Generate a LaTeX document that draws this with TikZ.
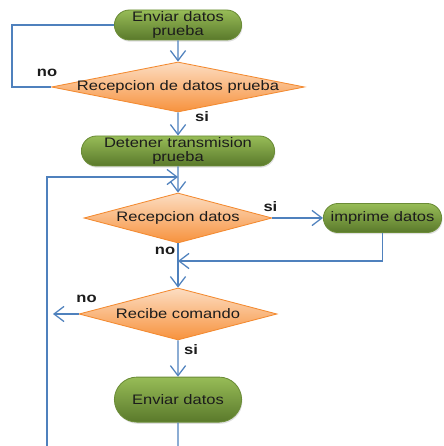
\documentclass[tikz,border=0pt]{standalone}
\usepackage{fontspec}
\newfontfamily\flowfont[FakeStretch=1.2]{Liberation Sans}
\usetikzlibrary{shapes,arrows.meta,calc,positioning,shadows}
\definecolor{flowblue}{HTML}{4F81BD}
\definecolor{flowtext}{HTML}{1C1C1C}
\definecolor{termtop}{HTML}{97BC57}
\definecolor{termbot}{HTML}{5A792B}
\definecolor{termedge}{HTML}{6B8C37}
\definecolor{choicetop}{HTML}{FCDDC2}
\definecolor{choicebot}{HTML}{F7923D}
\definecolor{choiceedge}{HTML}{F38A30}

\begin{document}
\begin{tikzpicture}
[
termnode/.style={rounded rectangle, draw=termedge, line width=0.6pt, top color=termtop, bottom color=termbot, font=\flowfont\fontsize{9.8}{10.2}\selectfont, text=flowtext, align=center, inner sep=1pt, minimum height=0.75cm, drop shadow={opacity=0.25, shadow xshift=0.6pt, shadow yshift=-1.2pt}},
choicenode/.style={diamond, draw=choiceedge, line width=0.6pt, top color=choicetop, bottom color=choicebot, inner sep=0pt, font=\flowfont\fontsize{9.8}{10.2}\selectfont, text=flowtext},
flowline/.style={draw=flowblue, line width=0.9pt},
flowarrow/.style={flowline, -{Straight Barb[length=2.5mm, width=3.8mm]}},
branchlabel/.style={font=\flowfont\bfseries\fontsize{9.8}{10.2}\selectfont, text=flowtext, inner sep=0pt},
]
\useasboundingbox (0,0) rectangle (11.075,11.15);
%draw the test stage
\node[termnode, minimum width=3.25cm] (sendtest) at (4.45,10.525) {Enviar datos\\prueba};
\node[choicenode, minimum width=6.325cm, minimum height=1.25cm] (gottest) at (4.45,8.975) {\makebox[0pt]{Recepcion de datos prueba}};
\node[termnode, minimum width=4.9cm] (stoptest) at (4.45,7.375) {Detener transmision\\prueba};
%draw the main loop
\node[choicenode, minimum width=4.7cm, minimum height=1.25cm] (gotdata) at (4.45,5.7) {\makebox[0pt]{Recepcion datos}};
\node[termnode, minimum width=3.025cm, minimum height=0.725cm] (printdata) at (9.5625,5.7) {imprime datos};
\node[choicenode, minimum width=4.95cm, minimum height=1.3cm] (gotcmd) at (4.45,3.3) {\makebox[0pt]{Recibe comando}};
\node[termnode, minimum width=3.25cm, minimum height=1.125cm] (senddata) at (4.45,1.16) {Enviar datos};
%loose ends of the lines
\coordinate (testloop) at (0.3,8.975);
\coordinate (mainjoin) at (4.45,6.725);
\coordinate (printjoin) at (4.45,4.625);
\coordinate (cmdout) at (1.325,3.3);
\coordinate (loopbottom) at (1.175,0);
\coordinate (sendbottom) at (4.45,0);
%draw the connectors
\draw[flowarrow] (sendtest) -- (gottest);
\draw[flowline] (sendtest.west) -| (testloop) -- (gottest.west);
\draw[flowarrow] (gottest) -- (stoptest);
\draw[flowarrow] (loopbottom) |- (mainjoin);
\draw[flowarrow] (stoptest) -- (gotdata);
\draw[flowarrow] (gotdata) -- (printdata);
\draw[flowarrow] (printdata.south) |- (printjoin);
\draw[flowarrow] (gotdata) -- (gotcmd);
\draw[flowarrow] (gotcmd.west) -- (cmdout);
\draw[flowarrow] (gotcmd) -- (senddata);
\draw[flowline] (senddata) -- (sendbottom);
%draw the branch labels
\node[branchlabel] (testno) at ($(gottest.west)+(-0.1,0.35)$) {no};
\node[branchlabel] (testsi) at ($(gottest.south)+(0.6,-0.1)$) {si};
\node[branchlabel] (datasi) at ($(gotdata.east)+(-0.05,0.275)$) {si};
\node[branchlabel] (datano) at ($(gotdata.south)+(-0.325,-0.175)$) {no};
\node[branchlabel] (cmdno) at ($(gotcmd.west)+(0.2,0.375)$) {no};
\node[branchlabel] (cmdsi) at ($(gotcmd.south)+(0.325,-0.225)$) {si};
\end{tikzpicture}
\end{document}
